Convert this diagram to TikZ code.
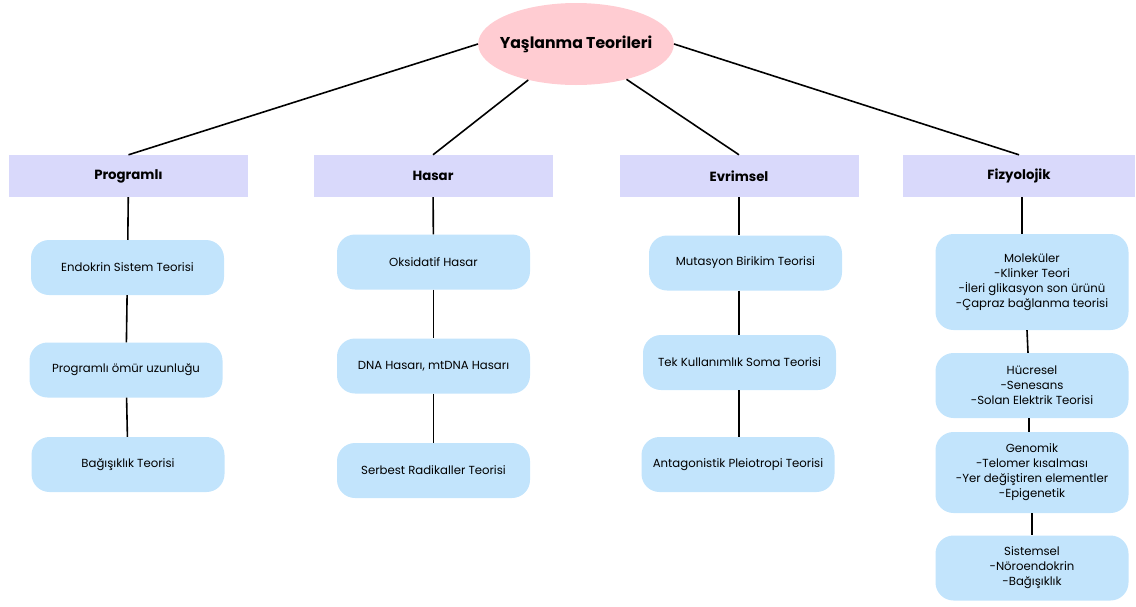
\documentclass[tikz,border=0pt]{standalone}
\usepackage{fontspec}
\setmainfont{Poppins}
\usepackage{tikz}
\usetikzlibrary{shapes.geometric}
\definecolor{rootpink}{HTML}{FFCCD2}
\definecolor{catlav}{HTML}{D9D9FB}
\definecolor{leafblue}{HTML}{C2E4FC}

\begin{document}
\begin{tikzpicture}[x=1pt, y=-1pt,
  root/.style={ellipse, fill=rootpink, minimum width=195pt, minimum height=82pt,
               inner xsep=-7pt, inner ysep=0pt,
               font=\bfseries\fontsize{15.7}{18}\selectfont},
  cat/.style={fill=catlav, minimum width=239pt, minimum height=42pt,
              font=\bfseries\fontsize{13.3}{15}\selectfont},
  leaf/.style={fill=leafblue, rounded corners=18pt, minimum width=193pt,
               minimum height=55pt, align=center, font=\fontsize{11.7}{15}\selectfont},
  link/.style={line width=1.6pt}
]
  \useasboundingbox (0,0) rectangle (1136,606);
  \node[root] (root) at (576,44) {Yaşlanma Teorileri};

  \node[cat] (prog) at (128.5,176) {Programlı};
  \node[cat] (has)  at (433,176)   {Hasar};
  \node[cat] (evr)  at (739,176)   {Evrimsel};
  \node[cat, minimum width=232pt] (fiz) at (1019,176) {Fizyolojik};

  \node[leaf] (endo) at (127.5,267.5) {Endokrin Sistem Teorisi};
  \node[leaf] (omur) at (126,370)     {Programlı ömür uzunluğu};
  \node[leaf] (bag)  at (128,464.5)   {Bağışıklık Teorisi};

  \node[leaf] (oks)  at (433.5,262)   {Oksidatif Hasar};
  \node[leaf] (dna)  at (433.5,366)   {DNA Hasarı, mtDNA Hasarı};
  \node[leaf] (serb) at (433.5,470.5) {Serbest Radikaller Teorisi};

  \node[leaf] (mut)  at (745.5,263)   {Mutasyon Birikim Teorisi};
  \node[leaf] (soma) at (739.5,362.5) {Tek Kullanımlık Soma Teorisi};
  \node[leaf] (ant)  at (738,464.5)   {Antagonistik Pleiotropi Teorisi};

  \node[leaf, minimum height=96pt] (mol) at (1032,282)
    {Moleküler\\-Klinker Teori\\-İleri glikasyon son ürünü\\-Çapraz bağlanma teorisi};
  \node[leaf, minimum height=65pt] (huc) at (1032,385.5)
    {Hücresel\\-Senesans\\-Solan Elektrik Teorisi};
  \node[leaf, minimum height=81pt] (gen) at (1032,472.5)
    {Genomik\\-Telomer kısalması\\-Yer değiştiren elementler\\-Epigenetik};
  \node[leaf, minimum height=65pt] (sis) at (1032,568)
    {Sistemsel\\-Nöroendokrin\\-Bağışıklık};

  \draw[link] (root.west) -- (prog.north);
  \draw[link] (root.217) -- (has.north);
  \draw[link] (root.-35) -- (evr.north);
  \draw[link] (root.east) -- (fiz.north);

  \draw[link] (prog) -- (endo);
  \draw[link] (endo) -- (omur);
  \draw[link] (omur) -- (bag);
  \draw[link] (has) -- (oks);
  \draw[link] (oks) -- (dna);
  \draw[link] (dna) -- (serb);
  \draw[link] (evr.south) -- (evr.south |- mut.north);
  \draw[link] (evr.south |- mut.south) -- (evr.south |- soma.north);
  \draw[link] (evr.south |- soma.south) -- (evr.south |- ant.north);
  \draw[link] ([xshift=3pt]fiz.south) -- ([xshift=3pt]fiz.south |- mol.north);
  \draw[link] ([xshift=-5pt]mol.south) -- ([xshift=-4pt]huc.north);
  \draw[link] ([xshift=-3pt]huc.south) -- ([xshift=-3pt]gen.north);
  \draw[link] (gen) -- (sis);
\end{tikzpicture}
\end{document}
